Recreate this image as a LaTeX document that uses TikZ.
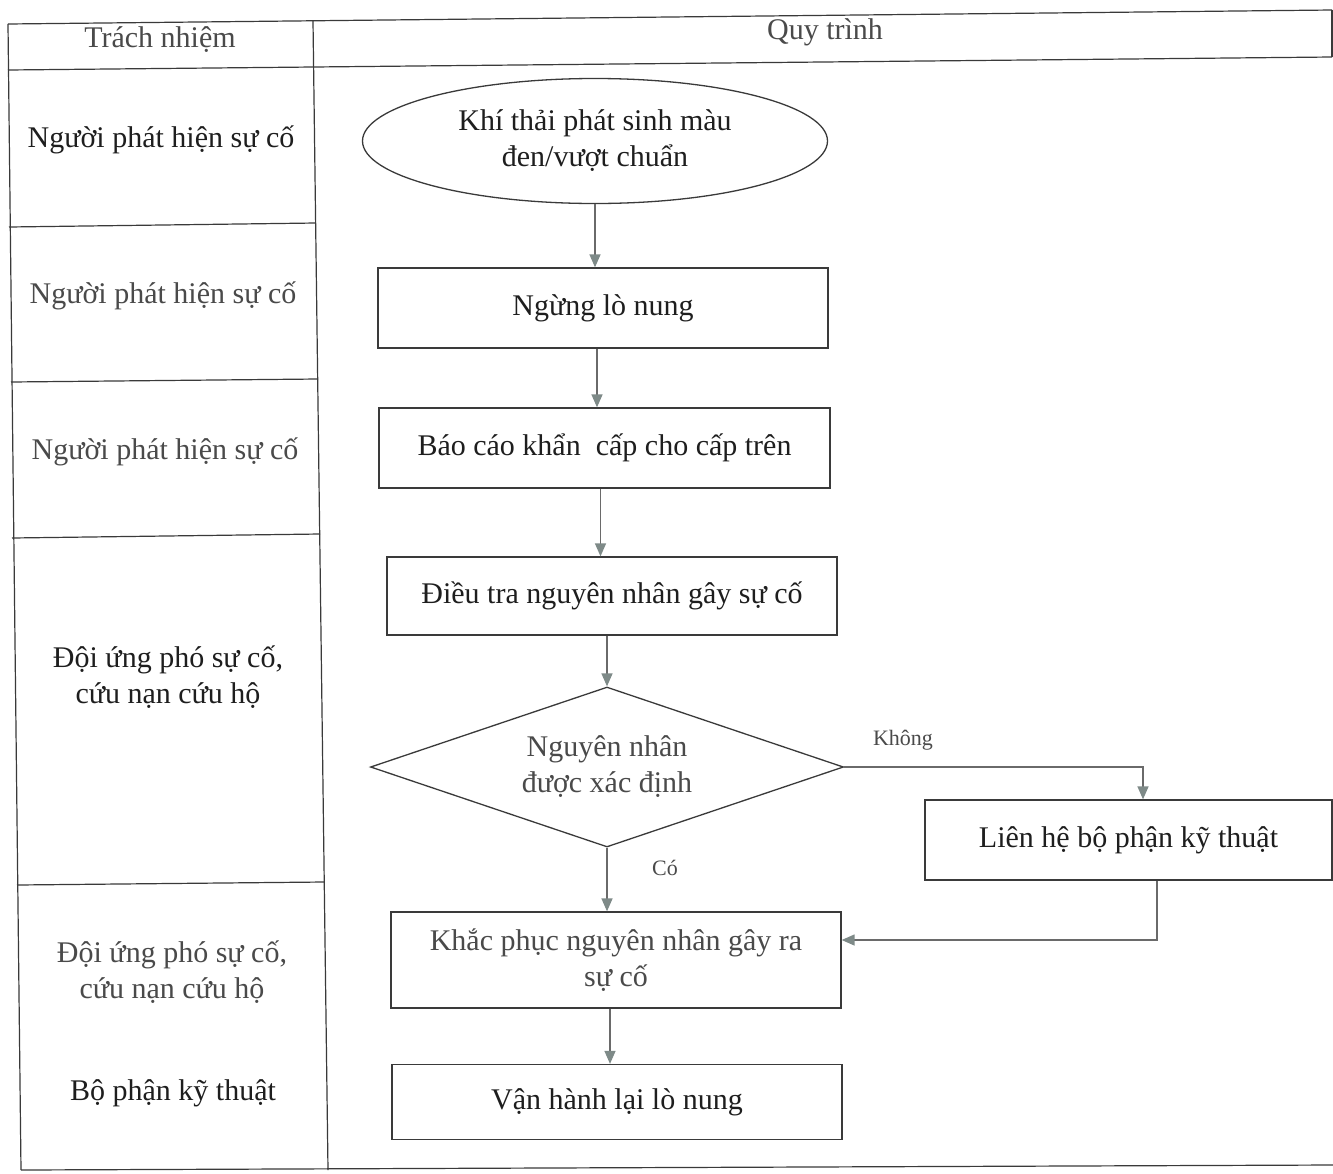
\documentclass[tikz,border=0pt]{standalone}
\usepackage{fontspec}
\setmainfont{Liberation Serif}
\usetikzlibrary{shapes.geometric,arrows.meta,calc}
\definecolor{ln}{HTML}{3A3A3A}
\definecolor{ar}{HTML}{6A6A6A}
\definecolor{ah}{HTML}{7E8A88}
\definecolor{tx}{HTML}{1E1E1E}
\definecolor{tl}{HTML}{4A4A4A}
\begin{document}
\begin{tikzpicture}[x=1pt,y=-1pt,
  tbl/.style={draw=ln,line width=1.2pt},
  txt/.style={font=\fontsize{30}{36}\selectfont,text=tx,align=center,inner sep=0pt},
  ltxt/.style={txt,text=tl},
  small/.style={font=\fontsize{22}{26}\selectfont,text=tl,inner sep=0pt},
  flowbox/.style={draw=ln,line width=1.3pt,rectangle,inner sep=0pt,align=center,font=\fontsize{30}{36}\selectfont,text=tx},
  arr/.style={draw=ar,line width=1.4pt,-{Triangle[length=13pt,width=11pt,fill=ah,color=ah]}}
]
\useasboundingbox (0,0) rectangle (1333,1173);
\fill[white] (0,0) rectangle (1333,1173);

% table
\draw[tbl] (8,24) -- (1332,10);
\draw[tbl] (8,70) -- (1332,57);
\draw[tbl] (1332,10) -- (1332,57);
\draw[tbl] (8,24) -- (21,1170);
\draw[tbl] (313,21) -- (328,1170);
\draw[tbl] (9,227) -- (316,223);
\draw[tbl] (11,382) -- (318,379);
\draw[tbl] (12,538) -- (320,534);
\draw[tbl] (17,885) -- (324,882);
\draw[tbl] (21,1170) -- (1333,1165);

% headers
\node[ltxt] (h1) at (160,40) {Trách nhiệm};
\node[ltxt] (h2) at (825,32) {Quy trình};

% responsibilities
\node[txt] (r1) at (161,140) {Người phát hiện sự cố};
\node[ltxt] (r2) at (163,296) {Người phát hiện sự cố};
\node[ltxt] (r3) at (165,452) {Người phát hiện sự cố};
\node[txt] (r4) at (168,677) {Đội ứng phó sự cố,\\cứu nạn cứu hộ};
\node[ltxt] (r5) at (172,972) {Đội ứng phó sự cố,\\cứu nạn cứu hộ};
\node[txt] (r6) at (173,1093) {Bộ phận kỹ thuật};

% flow
\node[draw=ln,line width=1.3pt,ellipse,minimum width=465pt,minimum height=125pt,inner sep=0pt,align=center,font=\fontsize{30}{36}\selectfont,text=tx] (e) at (595,141) {Khí thải phát sinh màu\\đen/vượt chuẩn};
\node[flowbox,minimum width=450pt,minimum height=80pt] (b1) at (603,308) {Ngừng lò nung};
\node[flowbox,minimum width=451pt,minimum height=80pt] (b2) at (604.5,448) {Báo cáo khẩn\ \ cấp cho cấp trên};
\node[flowbox,minimum width=450pt,minimum height=78pt] (b3) at (612,596) {Điều tra nguyên nhân gây sự cố};
\node[draw=ln,line width=1.3pt,diamond,aspect=2.96,minimum width=473pt,minimum height=160pt,inner sep=0pt,align=center,font=\fontsize{30}{36}\selectfont,text=tl] (d) at (607,767) {Nguyên nhân\\được xác định};
\node[flowbox,minimum width=407pt,minimum height=80pt] (b4) at (1128.5,840) {Liên hệ bộ phận kỹ thuật};
\node[flowbox,minimum width=450pt,minimum height=96pt,text=tl] (b5) at (616,960) {Khắc phục nguyên nhân gây ra\\sự cố};
\node[flowbox,minimum width=450pt,minimum height=75pt] (b6) at (617,1102) {Vận hành lại lò nung};

% connectors
\draw[arr] (e.south) -- (e.south |- b1.north);
\draw[arr] ([xshift=-6pt]b1.south) -- ([xshift=-6pt]b1.south |- b2.north);
\draw[arr] ([xshift=-4pt]b2.south) -- ([xshift=-4pt]b2.south |- b3.north);
\draw[arr] (b3.south -| d.north) -- (d.north);
\draw[arr] (d.east) -| ([xshift=14.5pt]b4.north);
\draw[arr] (d.south) -- (d.south |- b5.north);
\draw[arr] ([xshift=28.5pt]b4.south) |- ([yshift=20pt]b5.east);
\draw[arr] ([xshift=-6pt]b5.south) -- ([xshift=-6pt]b5.south |- b6.north);

\node[small] (lk) at (903,740) {Không};
\node[small] (lc) at (665,868) {Có};
\end{tikzpicture}
\end{document}
